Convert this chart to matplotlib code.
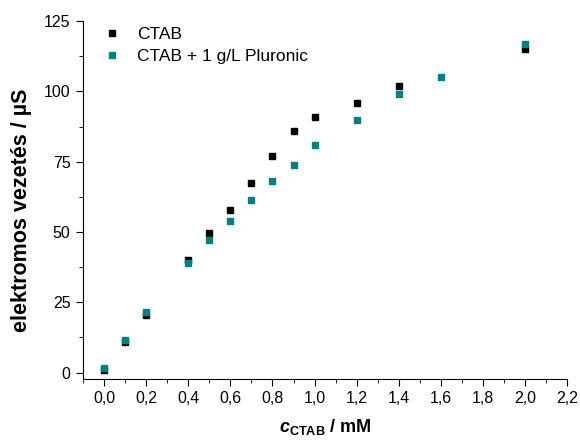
import matplotlib.pyplot as plt
from matplotlib.ticker import MultipleLocator, FuncFormatter

plt.rcParams['font.family'] = ['Liberation Sans', 'DejaVu Sans']
plt.rcParams['mathtext.fontset'] = 'custom'
plt.rcParams['mathtext.rm'] = 'Liberation Sans'
plt.rcParams['mathtext.bf'] = 'Liberation Sans:bold'
plt.rcParams['mathtext.it'] = 'Liberation Sans:italic'
plt.rcParams['mathtext.bfit'] = 'Liberation Sans:italic:bold'

c_ctab = [0.0, 0.1, 0.2, 0.4, 0.5, 0.6, 0.7, 0.8, 0.9, 1.0, 1.2, 1.4, 2.0]
g_ctab = [1.0, 11.0, 20.5, 40.0, 49.5, 58.0, 67.5, 77.0, 86.0, 91.0, 96.0, 102.0, 115.0]

c_plur = [0.0, 0.1, 0.2, 0.4, 0.5, 0.6, 0.7, 0.8, 0.9, 1.0, 1.2, 1.4, 1.6, 2.0]
g_plur = [1.5, 11.5, 21.5, 39.0, 47.0, 54.0, 61.5, 68.0, 74.0, 81.0, 90.0, 99.0, 105.0, 117.0]

fig = plt.figure(figsize=(5.8, 4.41), dpi=100)
ax = fig.add_axes([0.143, 0.141, 0.835, 0.811])

ax.plot(c_ctab, g_ctab, 's', color='black', markersize=5, label='CTAB')
ax.plot(c_plur, g_plur, 's', color='#008080', markersize=5, label='CTAB + 1 g/L Pluronic')

ax.set_xlim(-0.1, 2.2)
ax.set_ylim(-2.2, 125)
ax.spines['top'].set_visible(False)
ax.spines['right'].set_visible(False)

ax.xaxis.set_major_locator(MultipleLocator(0.2))
ax.xaxis.set_minor_locator(MultipleLocator(0.1))
ax.yaxis.set_major_locator(MultipleLocator(25))
ax.yaxis.set_minor_locator(MultipleLocator(12.5))
ax.xaxis.set_major_formatter(FuncFormatter(lambda v, p: '{:.1f}'.format(v).replace('.', ',')))
ax.tick_params(which='major', direction='out', length=5, labelsize=11.5, pad=4)
ax.tick_params(which='minor', direction='out', length=3)

ax.set_xlabel(r'$\mathbfit{c}_{\mathbf{CTAB}}$ / mM', fontsize=13, fontweight='bold', labelpad=8)
ax.set_ylabel('elektromos vezetés / µS', fontsize=15.5, fontweight='bold')
ax.yaxis.set_label_coords(-0.106, 0.472)

ax.legend(loc='upper left', bbox_to_anchor=(0.0, 1.027), frameon=False, fontsize=12.5,
          handletextpad=0.6, labelspacing=0.4, handlelength=1.6)

fig.savefig('out.png', dpi=100)
